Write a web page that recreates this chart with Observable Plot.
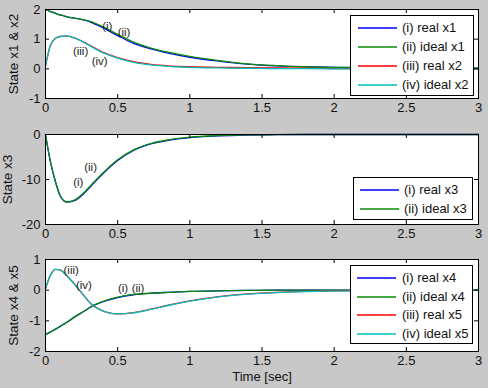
<!DOCTYPE html>
<html><head><meta charset="utf-8">
<script src="https://cdn.jsdelivr.net/npm/d3@7"></script>
<script src="https://cdn.jsdelivr.net/npm/@observablehq/plot@0.6"></script>
<style>
html,body{margin:0;padding:0;background:#c8c8c8;}
#fig{position:relative;width:488px;height:388px;background:#c8c8c8;font-family:"Liberation Sans",Arial,sans-serif;overflow:hidden;}
.panel{position:absolute;left:0;}
.legend{position:absolute;background:#fff;border:1px solid #000;box-sizing:border-box;font-size:13px;color:#111;}
.row{position:absolute;left:0;right:0;height:0;}
.row .ln{position:absolute;height:2px;top:-1px;opacity:0.75;}
.row .tx{position:absolute;top:-8px;white-space:nowrap;line-height:16px;}
</style></head><body><div id="fig"></div>
<script>
// ---- data ----
const time = [0, 0.035, 0.07, 0.1, 0.13, 0.15, 0.2, 0.27, 0.32, 0.38, 0.5, 0.61, 0.73, 0.85, 1.0, 1.2, 1.4, 1.6, 1.8, 2.0, 2.5, 3.0];
const x1Real  = [2.0, 1.93, 1.87, 1.82, 1.78, 1.75, 1.71, 1.64, 1.56, 1.43, 1.12, 0.86, 0.67, 0.53, 0.39, 0.26, 0.16, 0.10, 0.07, 0.05, 0.03, 0.02];
const x1Ideal = [2.0, 1.93, 1.87, 1.82, 1.78, 1.75, 1.71, 1.65, 1.58, 1.46, 1.16, 0.90, 0.70, 0.56, 0.42, 0.28, 0.17, 0.11, 0.07, 0.05, 0.03, 0.02];
const x2Real  = [0.1, 0.8, 1.03, 1.09, 1.1, 1.1, 1.04, 0.89, 0.76, 0.60, 0.38, 0.24, 0.15, 0.10, 0.07, 0.05, 0.04, 0.03, 0.02, 0.01, 0.0, 0.0];
const x2Ideal = [0.1, 0.8, 1.03, 1.09, 1.1, 1.1, 1.04, 0.88, 0.74, 0.58, 0.36, 0.22, 0.13, 0.08, 0.05, 0.03, 0.02, 0.01, 0.01, 0.0, 0.0, 0.0];
const x3Real  = [0, -6.2, -10.6, -13.5, -14.8, -15.0, -14.7, -13.0, -11.3, -9.3, -5.8, -3.55, -2.1, -1.3, -0.7, -0.3, -0.12, -0.05, 0, 0, 0, 0];
const x3Ideal = [0, -6.2, -10.6, -13.5, -14.8, -15.0, -14.6, -12.8, -11.1, -9.1, -5.6, -3.4, -2.0, -1.2, -0.6, -0.25, -0.1, -0.05, 0, 0, 0, 0];
const x4Real  = [-1.45, -1.36, -1.27, -1.19, -1.1, -1.04, -0.88, -0.68, -0.53, -0.41, -0.24, -0.15, -0.10, -0.07, -0.04, -0.02, -0.01, 0, 0, 0, 0, 0];
const x4Ideal = [-1.45, -1.36, -1.27, -1.19, -1.1, -1.04, -0.88, -0.68, -0.53, -0.40, -0.23, -0.14, -0.10, -0.07, -0.04, -0.02, -0.01, 0, 0, 0, 0, 0];
const x5Real  = [0.05, 0.5, 0.68, 0.66, 0.56, 0.46, 0.2, -0.2, -0.47, -0.64, -0.77, -0.73, -0.62, -0.49, -0.35, -0.21, -0.12, -0.07, -0.04, -0.02, -0.01, 0];
const x5Ideal = [0.05, 0.5, 0.68, 0.66, 0.56, 0.46, 0.2, -0.2, -0.47, -0.64, -0.77, -0.74, -0.63, -0.50, -0.36, -0.22, -0.13, -0.08, -0.05, -0.03, -0.01, 0];

const xTicks = [0, 0.5, 1, 1.5, 2, 2.5, 3];
const yTicks1 = [-1, 0, 1, 2];
const yTicks2 = [-20, -10, 0];
const yTicks3 = [-2, -1, 0, 1];

const legend1 = ["(i) real x1", "(ii) ideal x1", "(iii) real x2", "(iv) ideal x2"];
const legend2 = ["(i) real x3", "(ii) ideal x3"];
const legend3 = ["(i) real x4", "(ii) ideal x4", "(iii) real x5", "(iv) ideal x5"];

const notes1Label = ["(i)", "(ii)", "(iii)", "(iv)"];
const notes1T = [0.428, 0.544, 0.243, 0.375];
const notes1V = [1.45, 1.24, 0.58, 0.25];
const notes2Label = ["(ii)", "(i)"];
const notes2T = [0.3125, 0.227];
const notes2V = [-7.26, -10.6];
const notes3Label = ["(iii)", "(iv)", "(i)", "(ii)"];
const notes3T = [0.178, 0.266, 0.537, 0.641];
const notes3V = [0.65, 0.16, 0.075, 0.075];

const colors = ["#0000ff", "#0a8a0a", "#ff0000", "#00bfbf"];

// ---- drawing ----
const fig = document.getElementById("fig");
const W = 488, ML = 45, MR = 10;

function panel(o) {
  const plotH = o.height - o.mt - o.mb;
  const plotW = W - ML - MR;
  const lines = o.series.map((vals, k) =>
    Plot.line(time.map((t, i) => ({t, v: vals[i]})), {x: "t", y: "v", stroke: colors[k], strokeWidth: 1.3, curve: "monotone-x"}));
  const notes = o.noteLabel.map((l, i) => ({label: l, t: o.noteT[i], v: o.noteV[i]}));
  const p = Plot.plot({
    width: W, height: o.height,
    marginLeft: ML, marginRight: MR, marginTop: o.mt, marginBottom: o.mb,
    style: {background: "transparent", fontFamily: "Liberation Sans, Arial, sans-serif", fontSize: "13px", color: "#111", overflow: "visible"},
    x: {domain: [0, 3]},
    y: {domain: o.yDomain},
    marks: [
      Plot.frame({fill: "white"}),
      ...lines,
      Plot.text(notes, {x: "t", y: "v", text: "label", fontSize: 11.5, fill: "#222"}),
      Plot.tickX(xTicks, {x: d => d, insetTop: plotH - 4, stroke: "#000"}),
      Plot.tickX(xTicks, {x: d => d, insetBottom: plotH - 4, stroke: "#000"}),
      Plot.tickY(o.yTicks, {y: d => d, insetLeft: plotW - 4, stroke: "#000"}),
      Plot.tickY(o.yTicks, {y: d => d, insetRight: plotW - 4, stroke: "#000"}),
      Plot.frame({stroke: "#000"}),
      Plot.axisX(xTicks, {tickSize: 0, tickPadding: 4, fontSize: 13, tickFormat: d => String(d),
        label: o.xlabel || null, labelAnchor: "center", labelOffset: 29, labelArrow: "none"}),
      Plot.axisY(o.yTicks, {tickSize: 0, tickPadding: 5, fontSize: 13, tickFormat: d => String(d),
        label: o.ylabel, labelAnchor: "center", labelOffset: o.labelOffset, labelArrow: "none"})
    ]
  });
  p.querySelectorAll("[aria-label='y-axis label'] text, [aria-label='y-axis label']").forEach(e => e.setAttribute("font-size", "13.5"));
  const d = document.createElement("div");
  d.className = "panel";
  d.style.top = o.top + "px";
  d.appendChild(p);
  fig.appendChild(d);

  const lg = document.createElement("div");
  lg.className = "legend";
  Object.assign(lg.style, {left: o.lg.left + "px", top: o.lg.top + "px", width: o.lg.w + "px", height: o.lg.h + "px"});
  o.legend.forEach((txt, i) => {
    const r = document.createElement("div");
    r.className = "row";
    r.style.top = (o.lg.r0 + i * o.lg.dr) + "px";
    const ln = document.createElement("div");
    ln.className = "ln";
    Object.assign(ln.style, {left: o.lg.lx + "px", width: "39px", background: colors[i]});
    const tx = document.createElement("div");
    tx.className = "tx";
    tx.style.left = o.lg.tx + "px";
    tx.textContent = txt;
    r.appendChild(ln); r.appendChild(tx);
    lg.appendChild(r);
  });
  fig.appendChild(lg);
}

panel({top: 0, height: 125, mt: 9, mb: 27, yDomain: [-1, 2], yTicks: yTicks1,
  ylabel: "State x1 & x2", labelOffset: 37,
  series: [x1Real, x1Ideal, x2Real, x2Ideal],
  noteLabel: notes1Label, noteT: notes1T, noteV: notes1V,
  legend: legend1, lg: {left: 350, top: 15, w: 124, h: 81, r0: 12, dr: 19, lx: 7, tx: 51}});

panel({top: 125, height: 125, mt: 9, mb: 26, yDomain: [-20, 0], yTicks: yTicks2,
  ylabel: "State x3", labelOffset: 43,
  series: [x3Real, x3Ideal],
  noteLabel: notes2Label, noteT: notes2T, noteV: notes2V,
  legend: legend2, lg: {left: 353, top: 177, w: 120, h: 43, r0: 12, dr: 19, lx: 6, tx: 50}});

panel({top: 250, height: 138, mt: 9, mb: 37, yDomain: [-2, 1], yTicks: yTicks3,
  ylabel: "State x4 & x5", labelOffset: 37, xlabel: "Time [sec]",
  series: [x4Real, x4Ideal, x5Real, x5Ideal],
  noteLabel: notes3Label, noteT: notes3T, noteV: notes3V,
  legend: legend3, lg: {left: 350, top: 265, w: 123, h: 79, r0: 12, dr: 18.5, lx: 6, tx: 51}});
</script></body></html>
